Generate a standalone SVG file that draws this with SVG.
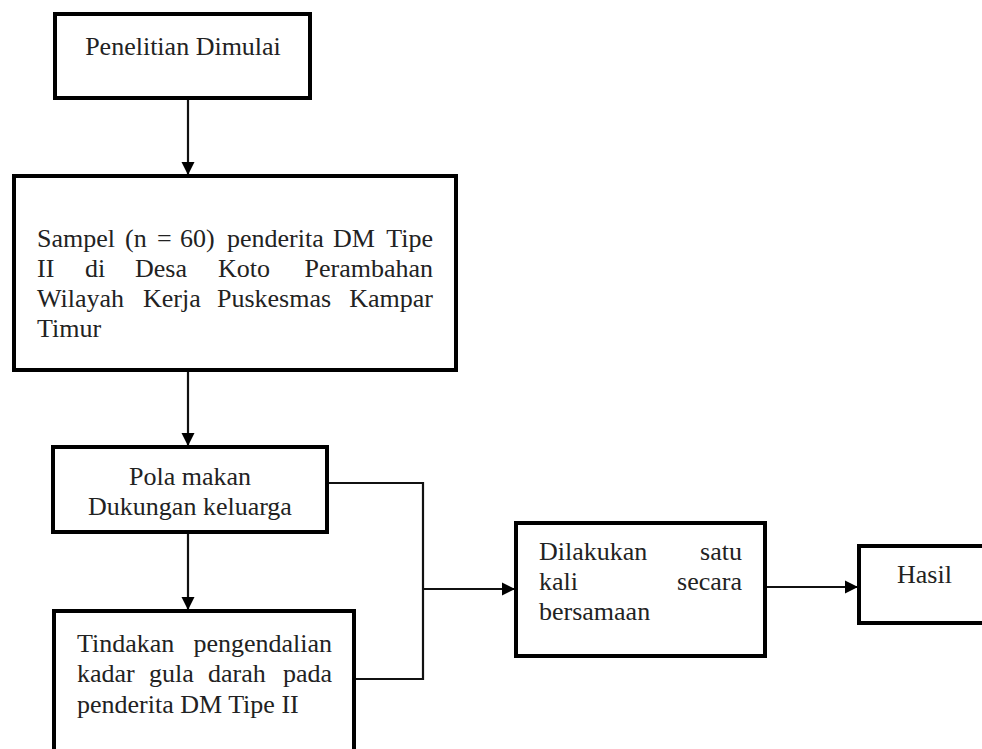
<svg xmlns="http://www.w3.org/2000/svg" width="982" height="749" viewBox="0 0 982 749">
<style>
.box{fill:#fff;stroke:#000;stroke-width:4}
.t{font-family:"Liberation Serif","Times New Roman",serif;font-size:26px;fill:#222}
.c{text-anchor:middle}
.e{text-anchor:end}
.ln{fill:none;stroke:#111;stroke-width:2.2}
</style>
<defs>
<marker id="ah" markerUnits="userSpaceOnUse" markerWidth="14" markerHeight="14" viewBox="0 0 14 14" refX="13" refY="7" orient="auto">
<path d="M0,0.5 L13,7 L0,13.5 z" fill="#000"/>
</marker>
</defs>
<rect width="982" height="749" fill="#fff"/>
<g id="connectors">
<path class="ln" d="M188,98 V175" marker-end="url(#ah)"/>
<path class="ln" d="M188,372 V446" marker-end="url(#ah)"/>
<path class="ln" d="M188,534 V610" marker-end="url(#ah)"/>
<path class="ln" d="M329,483 H423 V679 H356"/>
<path class="ln" d="M423,589 H515" marker-end="url(#ah)"/>
<path class="ln" d="M767,587 H858" marker-end="url(#ah)"/>
</g>
<g id="n1">
<rect class="box" x="55" y="14" width="255" height="84"/>
<text class="t c" x="183" y="55">Penelitian Dimulai</text>
</g>
<g id="n2">
<rect class="box" x="14" y="176" width="442" height="194"/>
<text class="t" y="247"><tspan x="37">Sampel</tspan><tspan x="125">(n</tspan><tspan x="157">=</tspan><tspan x="180">60)</tspan><tspan x="227">penderita</tspan><tspan x="333">DM</tspan></text>
<text class="t e" x="433" y="247">Tipe</text>
<text class="t" y="277"><tspan x="37">II</tspan><tspan x="85">di</tspan><tspan x="135">Desa</tspan><tspan x="218">Koto</tspan></text>
<text class="t e" x="433" y="277">Perambahan</text>
<text class="t" y="307"><tspan x="37">Wilayah</tspan><tspan x="143">Kerja</tspan><tspan x="217">Puskesmas</tspan></text>
<text class="t e" x="433" y="307">Kampar</text>
<text class="t" x="37" y="337">Timur</text>
</g>
<g id="n3">
<rect class="box" x="53" y="447" width="274" height="85"/>
<text class="t c" x="190" y="485">Pola makan</text>
<text class="t c" x="190" y="515">Dukungan keluarga</text>
</g>
<g id="n4">
<rect class="box" x="54" y="611" width="300" height="160"/>
<text class="t" x="77" y="652">Tindakan</text>
<text class="t e" x="332" y="652">pengendalian</text>
<text class="t" y="682"><tspan x="77">kadar</tspan><tspan x="149">gula</tspan><tspan x="208">darah</tspan></text>
<text class="t e" x="332" y="682">pada</text>
<text class="t" x="77" y="713">penderita DM Tipe II</text>
</g>
<g id="n5">
<rect class="box" x="516" y="523" width="249" height="133"/>
<text class="t" x="539" y="560">Dilakukan</text>
<text class="t e" x="742" y="560">satu</text>
<text class="t" x="539" y="590">kali</text>
<text class="t e" x="742" y="590">secara</text>
<text class="t" x="539" y="620">bersamaan</text>
</g>
<g id="n6">
<rect class="box" x="859" y="546" width="150" height="77"/>
<text class="t" x="897" y="583">Hasil</text>
</g>
</svg>
